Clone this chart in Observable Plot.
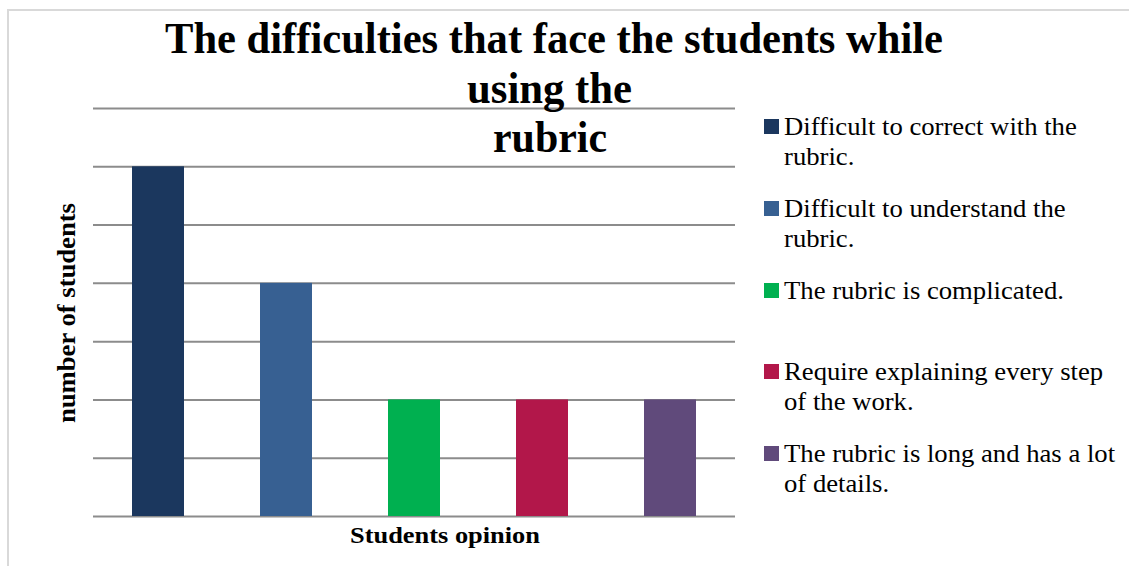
<!DOCTYPE html>
<html>
<head>
<meta charset="utf-8">
<script src="https://cdn.jsdelivr.net/npm/d3@7"></script>
<script src="https://cdn.jsdelivr.net/npm/@observablehq/plot@0.6"></script>
<style>
  html, body { margin: 0; padding: 0; background: #fff; }
  #wrap { position: relative; width: 1129px; height: 566px; overflow: hidden; }
  #chart, #overlay { position: absolute; left: 0; top: 0; }
  #overlay text { font-family: "Liberation Serif", "Times New Roman", serif; fill: #000; }
</style>
</head>
<body>
<div id="wrap">
  <div id="chart"></div>
  <svg id="overlay" width="1129" height="566"></svg>
</div>
<script>
const categories = [
  "Difficult to correct with the rubric.",
  "Difficult to understand the rubric.",
  "The rubric is complicated.",
  "Require explaining every step of the work.",
  "The rubric is long and has a lot of details."
];
const legendLines = [
  ["Difficult to correct with the", "rubric."],
  ["Difficult to understand the", "rubric."],
  ["The rubric is complicated."],
  ["Require explaining every step", "of the work."],
  ["The rubric is long and has a lot", "of details."]
];
const values = [6, 4, 2, 2, 2];
const colors = ["#1b375e", "#376092", "#00b050", "#b2174a", "#604a7b"];
const yTicks = [0, 1, 2, 3, 4, 5, 6, 7];
const titleLines = ["The difficulties that face the students while", "using the", "rubric"];
const yLabel = "number of students";
const xLabel = "Students opinion";

const data = categories.map((c, i) => ({cat: c, value: values[i]}));

const chart = Plot.plot({
  width: 1129,
  height: 566,
  marginLeft: 93,
  marginRight: 394,
  marginTop: 108,
  marginBottom: 50,
  style: {background: "transparent"},
  x: {domain: categories, axis: null, paddingInner: 0.595, paddingOuter: 0.2975},
  y: {domain: [0, 7], axis: null},
  color: {domain: categories, range: colors},
  marks: [
    Plot.ruleY(yTicks, {stroke: "#8c8c8c", strokeWidth: 2}),
    Plot.barY(data, {x: "cat", y: "value", fill: "cat"})
  ]
});
document.getElementById("chart").appendChild(chart);

const svg = d3.select("#overlay");

// chart-area frame (left and top edges)
svg.append("path")
  .attr("d", "M8,566 L8,10 L1129,10")
  .attr("fill", "none")
  .attr("stroke", "#d9d9d9")
  .attr("stroke-width", 2);

// title
const titleSpec = [
  {x: 554, y: 53, w: 778},
  {x: 549.5, y: 103, w: 165},
  {x: 550, y: 152, w: 114}
];
titleLines.forEach((t, i) => {
  svg.append("text")
    .attr("x", titleSpec[i].x)
    .attr("y", titleSpec[i].y)
    .attr("text-anchor", "middle")
    .attr("font-size", 45)
    .attr("font-weight", "bold")
    .attr("textLength", titleSpec[i].w)
    .attr("lengthAdjust", "spacingAndGlyphs")
    .text(t);
});

// legend
const legBase = [135, 217, 299, 380, 462];
const legendScaleRef = 293; // width of first legend line
const legFont = 26;
// measure natural width of first line to get a common horizontal scale
const probe = svg.append("text").attr("font-size", legFont).text(legendLines[0][0]);
const natural = probe.node().getComputedTextLength();
probe.remove();
const kx = legendScaleRef / natural;
legendLines.forEach((lines, i) => {
  svg.append("rect")
    .attr("x", 764)
    .attr("y", legBase[i] - 16)
    .attr("width", 15)
    .attr("height", 15)
    .attr("fill", colors[i]);
  lines.forEach((l, j) => {
    const g = svg.append("g").attr("transform", `translate(784,${legBase[i] + j * 30}) scale(${kx},1)`);
    g.append("text")
      .attr("x", 0)
      .attr("y", 0)
      .attr("font-size", legFont)
      .text(l);
  });
});

// y label
svg.append("text")
  .attr("transform", "translate(75,313) rotate(-90)")
  .attr("text-anchor", "middle")
  .attr("font-size", 25)
  .attr("font-weight", "bold")
  .attr("textLength", 220)
  .attr("lengthAdjust", "spacingAndGlyphs")
  .text(yLabel);

// x label
svg.append("text")
  .attr("x", 445)
  .attr("y", 543)
  .attr("text-anchor", "middle")
  .attr("font-size", 24)
  .attr("font-weight", "bold")
  .attr("textLength", 190)
  .attr("lengthAdjust", "spacingAndGlyphs")
  .text(xLabel);
</script>
</body>
</html>
